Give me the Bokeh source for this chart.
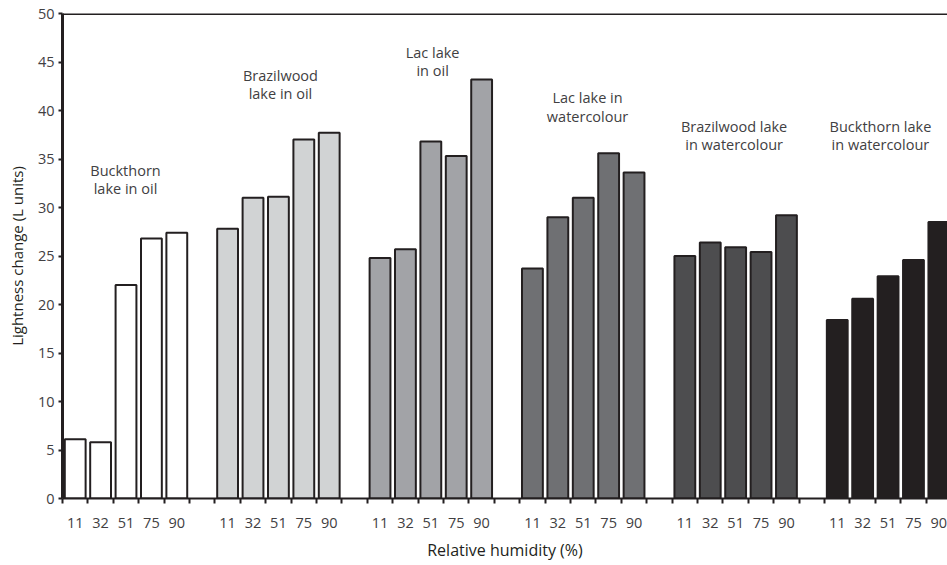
from bokeh.plotting import figure
from bokeh.models import Range1d, FixedTicker, Span, ColumnDataSource
from bokeh.core.properties import value
from bokeh.embed import file_html
from bokeh.resources import INLINE

# ---- data ----
humidity = ["11", "32", "51", "75", "90"]
group_names = ["Buckthorn lake in oil", "Brazilwood lake in oil", "Lac lake in oil",
               "Lac lake in watercolour", "Brazilwood lake in watercolour",
               "Buckthorn lake in watercolour"]
buckthorn_oil = [6.1, 5.8, 22.0, 26.8, 27.4]
brazilwood_oil = [27.8, 31.0, 31.1, 37.0, 37.7]
lac_oil = [24.8, 25.7, 36.8, 35.3, 43.2]
lac_watercolour = [23.7, 29.0, 31.0, 35.6, 33.6]
brazilwood_watercolour = [25.0, 26.4, 25.9, 25.4, 29.2]
buckthorn_watercolour = [18.4, 20.6, 22.9, 24.6, 28.5]
series = [buckthorn_oil, brazilwood_oil, lac_oil, lac_watercolour,
          brazilwood_watercolour, buckthorn_watercolour]
label_line1 = ["Buckthorn", "Brazilwood", "Lac lake", "Lac lake in", "Brazilwood lake", "Buckthorn lake"]
label_line2 = ["lake in oil", "lake in oil", "in oil", "watercolour", "in watercolour", "in watercolour"]
y_ticks = [0, 5, 10, 15, 20, 25, 30, 35, 40, 45, 50]

# ---- layout / style ----
fills = ["#ffffff", "#d1d3d4", "#a2a3a7", "#6f7073", "#4d4d4f", "#231f20"]
slots = 6
label_x = [2.48, 8.58, 14.57, 20.67, 26.44, 32.2]
label_y1 = [33.85, 43.6, 46.0, 41.37, 38.37, 38.37]
label_y2 = [32.0, 41.78, 44.13, 39.41, 36.53, 36.53]
FONT = "Open Sans"
INK = "#231f20"
TXT = "#414042"
FS = "14.5px"

p = figure(width=947, height=565, output_backend="svg", toolbar_location=None,
           x_range=Range1d(0, 34.84), y_range=Range1d(0, 50),
           min_border_left=62, min_border_top=13, min_border_right=0, min_border_bottom=67)
p.outline_line_color = None
p.xgrid.visible = False
p.ygrid.visible = False
p.background_fill_color = "white"
p.border_fill_color = "white"

xs, tops, cols, ticklabels = [], [], [], {}
for g, vals in enumerate(series):
    for i, v in enumerate(vals):
        xc = g * slots + i + 0.5
        xs.append(xc)
        tops.append(v)
        cols.append(fills[g])
        ticklabels[xc] = humidity[i]

src = ColumnDataSource(dict(x=xs, top=tops, color=cols))
p.vbar(x="x", top="top", bottom=0, width=0.82, source=src, fill_color="color",
       line_color=INK, line_width=2)

# group labels
p.text(x=label_x, y=label_y1, text=label_line1, text_align="center", text_baseline="middle",
       text_font=value(FONT), text_font_size=FS, text_color=TXT)
p.text(x=label_x, y=label_y2, text=label_line2, text_align="center", text_baseline="middle",
       text_font=value(FONT), text_font_size=FS, text_color=TXT)

# top border
p.add_layout(Span(location=50, dimension="width", line_color=INK, line_width=3))

# x axis
xa = p.xaxis[0]
xa.ticker = FixedTicker(ticks=list(ticklabels.keys()),
                        minor_ticks=list(range(0, len(series) * slots + 1)))
xa.major_label_overrides = ticklabels
xa.major_tick_line_color = None
xa.major_tick_out = 0
xa.major_tick_in = 0
xa.minor_tick_line_color = INK
xa.minor_tick_line_width = 2
xa.minor_tick_out = 5
xa.minor_tick_in = 0
xa.major_label_standoff = 14
xa.axis_line_color = INK
xa.axis_line_width = 2
xa.major_label_text_font = FONT
xa.major_label_text_font_size = FS
xa.major_label_text_color = TXT
xa.axis_label = "Relative humidity (%)"
xa.axis_label_text_font = FONT
xa.axis_label_text_font_size = "16px"
xa.axis_label_text_font_style = "normal"
xa.axis_label_text_color = INK
xa.axis_label_standoff = 8

# y axis
ya = p.yaxis[0]
ya.ticker = FixedTicker(ticks=y_ticks)
ya.minor_tick_line_color = None
ya.major_tick_line_color = INK
ya.major_tick_line_width = 2
ya.major_tick_out = 4
ya.major_tick_in = 0
ya.major_label_standoff = 4
ya.axis_line_color = INK
ya.axis_line_width = 3
ya.major_label_text_font = FONT
ya.major_label_text_font_size = FS
ya.major_label_text_color = TXT
ya.axis_label = "Lightness change (L units)"
ya.axis_label_text_font = FONT
ya.axis_label_text_font_size = "15px"
ya.axis_label_text_font_style = "normal"
ya.axis_label_text_color = INK
ya.axis_label_standoff = 8

open("out.html", "w").write(file_html(p, INLINE))
